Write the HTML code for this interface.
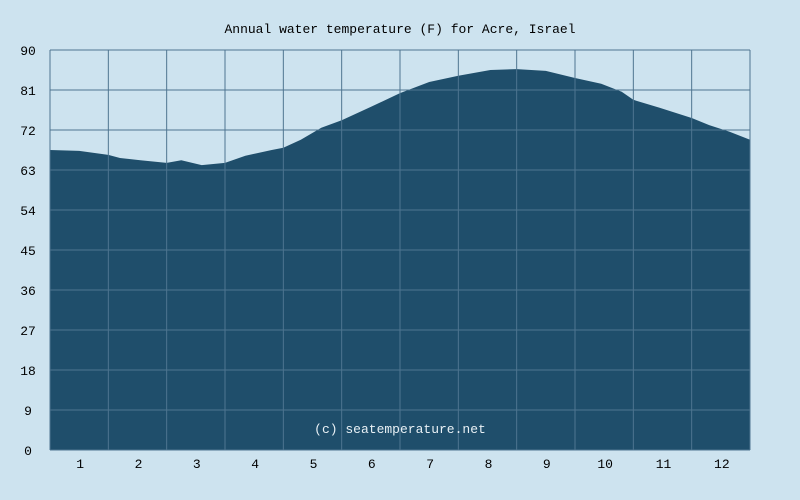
<!DOCTYPE html>
<html><head><meta charset="utf-8"><style>
html,body{margin:0;padding:0;background:#cde3ef;}
svg{display:block;font-family:"Liberation Mono",monospace;}
</style></head><body>
<svg id="chart" width="800" height="500">
<rect x="0" y="0" width="800" height="500" fill="#cde3ef"/>
<text x="400" y="33" text-anchor="middle" font-size="13" fill="#000">Annual water temperature (F) for Acre, Israel</text>
<g id="area"></g>
<g id="grid"></g>
<g id="yticks"></g>
<g id="xticks"></g>
<text x="400" y="433" text-anchor="middle" font-size="13" fill="#e8f0f5">(c) seatemperature.net</text>
</svg>
<script>
const monthLabels = ["1","2","3","4","5","6","7","8","9","10","11","12"];
const yTickLabels = [0,9,18,27,36,45,54,63,72,81,90];
const samplePos = [0,0.5,1,1.2,1.55,2,2.25,2.6,3,3.35,3.8,4,4.3,4.65,5,5.5,6,6.5,7,7.55,8,8.5,9,9.45,9.8,10,10.45,11,11.3,11.65,12];
const tempF = [67.5,67.3,66.4,65.7,65.2,64.6,65.2,64.1,64.6,66.2,67.5,68,69.8,72.5,74.2,77.2,80.3,82.8,84.2,85.5,85.7,85.3,83.7,82.4,80.6,78.8,77,74.7,73.1,71.6,69.8];
const L=50,R=750,T=50,B=450,yMax=90;
const xs=m=>L+(R-L)*m/12;
const ys=v=>B-(B-T)*v/yMax;
const NS="http://www.w3.org/2000/svg";
function mk(tag,attrs,parent){const e=document.createElementNS(NS,tag);for(const k in attrs)e.setAttribute(k,attrs[k]);parent.appendChild(e);return e;}
const area=document.getElementById('area');
let d="M"+xs(samplePos[0])+","+B;
samplePos.forEach((m,i)=>{d+=" L"+xs(m).toFixed(1)+","+ys(tempF[i]).toFixed(1);});
d+=" L"+xs(samplePos[samplePos.length-1])+","+B+" Z";
const p=mk('path',{d:d,fill:'#1f4e6b'},area);


const grid=document.getElementById('grid');
const yt=document.getElementById('yticks');
yTickLabels.forEach(v=>{
  const ln=mk('line',{x1:L,x2:R,y1:ys(v),y2:ys(v),stroke:'#4f7590','stroke-width':1},grid);
  
  
  const t=mk('text',{x:28,y:ys(v)+5,'text-anchor':'middle','font-size':13,fill:'#000'},yt);
  t.textContent=v;
  
  
});
const xt=document.getElementById('xticks');
for(let i=0;i<=12;i++){
  const ln=mk('line',{x1:xs(i),x2:xs(i),y1:T,y2:B,stroke:'#4f7590','stroke-width':1},grid);
  
  
}
monthLabels.forEach((lab,i)=>{
  const t=mk('text',{x:xs(i+0.5)+1,y:468,'text-anchor':'middle','font-size':13,fill:'#000'},xt);
  t.textContent=lab;
  
  
});
</script>
</body></html>
